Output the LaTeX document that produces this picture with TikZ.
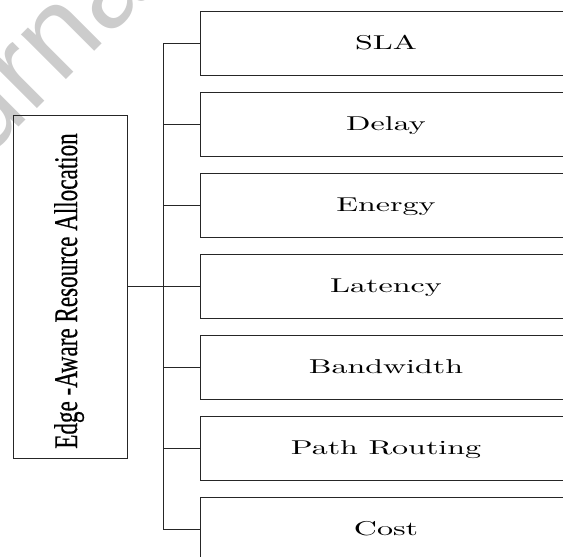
\documentclass[tikz,border=0pt]{standalone}
\usepackage{fontspec}
\usepackage{graphicx}
\newfontfamily\timesfont{Liberation Serif}[FakeBold=0.6]
\newfontfamily\markfont{Liberation Sans}
\newfontfamily\itemfont{lmroman10-regular}[Extension=.otf]
\begin{document}
\begin{tikzpicture}[x=1pt,y=-1pt,
  frame/.style={draw=black!85, line width=0.9pt},
  itembox/.style={frame, minimum width=372pt, minimum height=64pt,
    text height=13.7pt, text depth=0pt, inner sep=0pt,
    font=\itemfont\fontsize{20}{24}\selectfont},
  wire/.style={draw=black!85, line width=1pt}]
\useasboundingbox (0,0) rectangle (563,557);
\clip (0,0) rectangle (563,557);

% faint diagonal watermark behind the chart
\node[rotate=45, anchor=base west, inner sep=0pt, text=black!20,
  font=\markfont\fontsize{120}{120}\selectfont] (mark) at (-105,251) {Journal Pre-proof};

% root box with vertical title
\node[frame, minimum width=114pt, minimum height=343pt] (main) at (70,286.5) {};
\node[rotate=90, anchor=base, inner sep=0pt,
  font=\timesfont\fontsize{33}{36}\selectfont] (maintext) at (77,291)
  {\scalebox{0.7}[1]{Edge -Aware Resource Allocation}};

% criteria boxes
\node[itembox] (b1) at (386,43)  {\scalebox{1.6}[1]{SLA}};
\node[itembox] (b2) at (386,124) {\scalebox{1.6}[1]{Delay}};
\node[itembox] (b3) at (386,205) {\scalebox{1.6}[1]{Energy}};
\node[itembox] (b4) at (386,286) {\scalebox{1.6}[1]{Latency}};
\node[itembox] (b5) at (386,367) {\scalebox{1.6}[1]{Bandwidth}};
\node[itembox] (b6) at (386,448) {\scalebox{1.6}[1]{Path Routing}};
\node[itembox] (b7) at (386,529) {\scalebox{1.6}[1]{Cost}};

% tree connectors
\coordinate (spine) at (163,0);
\draw[wire] (b1.west -| spine) -- (b7.west -| spine);
\draw[wire] (main.east) -- (main.east -| spine);
\foreach \b in {b1,b2,b3,b4,b5,b6,b7}
  \draw[wire] (\b.west -| spine) -- (\b.west);
\end{tikzpicture}
\end{document}
